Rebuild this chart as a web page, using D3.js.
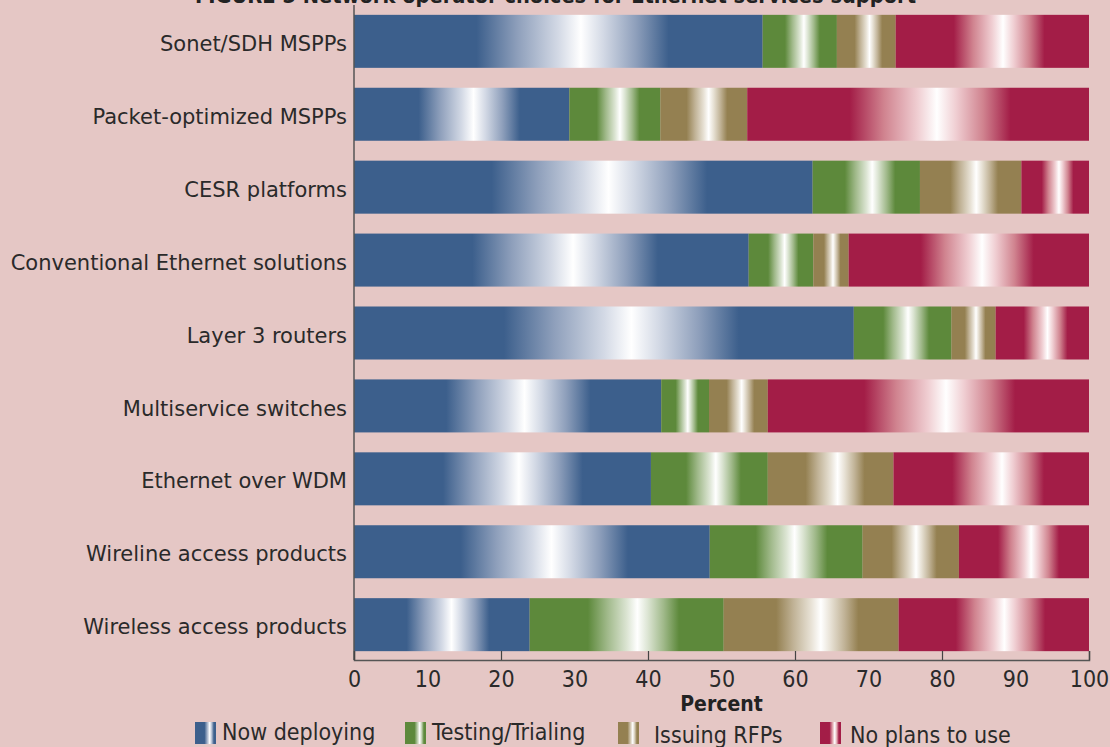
<!DOCTYPE html>
<html>
<head>
<meta charset="utf-8">
<script src="https://cdn.jsdelivr.net/npm/d3@7"></script>
<style>
  body { margin: 0; background: #e5c7c5; }
  svg { display: block; }
</style>
</head>
<body>
<script>
var width = 1110;
var height = 747;

// categories, top to bottom
var categories = [
  "Sonet/SDH MSPPs",
  "Packet-optimized MSPPs",
  "CESR platforms",
  "Conventional Ethernet solutions",
  "Layer 3 routers",
  "Multiservice switches",
  "Ethernet over WDM",
  "Wireline access products",
  "Wireless access products"
];
var seriesNames = ["Now deploying", "Testing/Trialing", "Issuing RFPs", "No plans to use"];
var nowDeploying = [55.6, 29.3, 62.4, 53.7, 68.0, 41.8, 40.4, 48.4, 23.9];
var testing      = [10.1, 12.4, 14.6,  8.8, 13.3,  6.5, 15.9, 20.8, 26.4];
var issuingRFPs  = [ 8.0, 11.8, 13.8,  4.8,  6.0,  8.0, 17.1, 13.1, 23.8];
var noPlans      = [26.3, 46.5,  9.2, 32.7, 12.7, 43.7, 26.6, 17.7, 25.9];
var tickLabels = [0, 10, 20, 30, 40, 50, 60, 70, 80, 90, 100];
var tickMarks = [0, 20, 40, 60, 80, 100];

var colors = ["#3c5f8c", "#5d893b", "#948051", "#a31d47"];

// table for d3.stack
var table = categories.map(function (c, i) {
  var row = { category: c };
  row[seriesNames[0]] = nowDeploying[i];
  row[seriesNames[1]] = testing[i];
  row[seriesNames[2]] = issuingRFPs[i];
  row[seriesNames[3]] = noPlans[i];
  return row;
});
var stacked = d3.stack().keys(seriesNames)(table);

var svg = d3.select('body').append('svg').attr('width', width).attr('height', height);
svg.append("rect").attr("width", width).attr("height", height).attr("fill", "#e5c7c5");

var x = d3.scaleLinear().domain([0, 100]).range([354, 1089]);
var y = d3.scaleBand().domain(categories).range([9, 657]).paddingInner(0.273).paddingOuter(0.08);

// metallic-looking gradients, one per series
var defs = svg.append("defs");
function tint(c, t) { return d3.interpolateLab(c, "#ffffff")(t); }
colors.forEach(function (c, i) {
  var g = defs.append("linearGradient").attr("id", "grad" + i)
    .attr("x1", 0).attr("x2", 1).attr("y1", 0).attr("y2", 0);
  [[0, 0], [0.30, 0], [0.40, 0.42], [0.50, 0.78], [0.555, 1], [0.61, 0.78], [0.69, 0.42], [0.77, 0], [1, 0]]
    .forEach(function (s) {
      g.append("stop").attr("offset", s[0]).attr("stop-color", tint(c, s[1]));
    });
  var lg = defs.append("linearGradient").attr("id", "lgrad" + i)
    .attr("x1", 0).attr("x2", 1).attr("y1", 0).attr("y2", 0);
  [[0, 0], [0.45, 0], [0.6, 0.6], [0.7, 1], [0.8, 0.6], [0.9, 0], [1, 0]]
    .forEach(function (s) {
      lg.append("stop").attr("offset", s[0]).attr("stop-color", tint(c, s[1]));
    });
});

// bars
svg.append("g").selectAll("g")
  .data(stacked)
  .enter().append("g")
  .attr("fill", function (d, i) { return "url(#grad" + i + ")"; })
  .selectAll("rect")
  .data(function (d) { return d; })
  .enter().append("rect")
  .attr("x", function (d) { return x(d[0]); })
  .attr("y", function (d) { return y(d.data.category); })
  .attr("width", function (d) { return x(d[1]) - x(d[0]); })
  .attr("height", y.bandwidth());

// y axis line + category labels
svg.append("line")
  .attr("x1", x(0)).attr("x2", x(0)).attr("y1", 5).attr("y2", 660)
  .attr("stroke", "#555").attr("stroke-width", 1.5);

svg.append("g").selectAll("text")
  .data(categories)
  .enter().append("text")
  .attr("x", 347)
  .attr("y", function (d) { return y(d) + y.bandwidth() / 2; })
  .attr("dy", "0.46em")
  .attr("text-anchor", "end")
  .attr("font-family", "'DejaVu Sans', sans-serif")
  .attr("font-size", 21)
  .attr("fill", "#2a2a2a")
  .text(function (d) { return d; });

// x axis: tick marks every 20, labels every 10
var xAxisMarks = svg.append("g")
  .attr("transform", "translate(0,660)")
  .call(d3.axisBottom(x).tickValues(tickMarks).tickSize(-9).tickFormat(""));
xAxisMarks.select(".domain").attr("stroke", "#555").attr("stroke-width", 1.5);
xAxisMarks.selectAll(".tick line").attr("stroke", "#444").attr("stroke-width", 1.2);

var xAxisLabels = svg.append("g")
  .attr("transform", "translate(0,660)")
  .call(d3.axisBottom(x).tickValues(tickLabels).tickSize(0).tickPadding(11));
xAxisLabels.select(".domain").remove();
xAxisLabels.selectAll("text")
  .attr("font-family", "'DejaVu Sans Condensed', 'DejaVu Sans', sans-serif")
  .style("font-stretch", "condensed")
  .attr("font-size", 23)
  .attr("fill", "#2a2a2a");

svg.append("text")
  .attr("x", x(50)).attr("y", 711)
  .attr("text-anchor", "middle")
  .attr("font-family", "'DejaVu Sans Condensed', 'DejaVu Sans', sans-serif")
  .style("font-stretch", "condensed")
  .attr("font-weight", "bold")
  .attr("font-size", 21)
  .attr("fill", "#222")
  .text("Percent");

// title (cut off at the top in the original)
svg.append("text")
  .attr("x", 195).attr("y", 3)
  .attr("textLength", 721).attr("lengthAdjust", "spacingAndGlyphs")
  .attr("font-family", "'DejaVu Sans Condensed', 'DejaVu Sans', sans-serif")
  .style("font-stretch", "condensed")
  .attr("font-weight", "bold")
  .attr("font-size", 22)
  .attr("fill", "#222")
  .text("FIGURE 5  Network operator choices for Ethernet services support");

// legend
var legendSwatchX = [195, 405, 618, 820];
var legendTextX = [222, 432, 654, 850];
var legend = svg.append("g").selectAll("g")
  .data(seriesNames)
  .enter().append("g");
legend.append("rect")
  .attr("x", function (d, i) { return legendSwatchX[i]; })
  .attr("y", 722).attr("width", 21).attr("height", 22)
  .attr("fill", function (d, i) { return "url(#lgrad" + i + ")"; });
legend.append("text")
  .attr("x", function (d, i) { return legendTextX[i]; })
  .attr("y", function (d, i) { return i < 2 ? 740 : 743; })
  .attr("font-family", "'DejaVu Sans Condensed', 'DejaVu Sans', sans-serif")
  .style("font-stretch", "condensed")
  .attr("font-size", 23)
  .attr("fill", "#2a2a2a")
  .text(function (d) { return d; });
</script>
</body>
</html>
